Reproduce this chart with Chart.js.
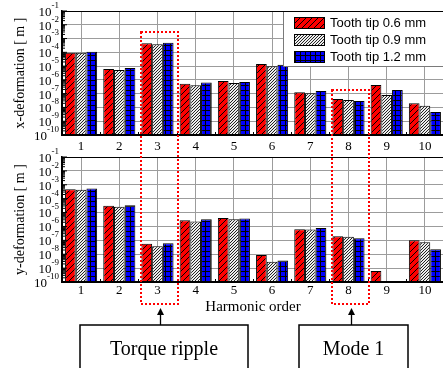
<!DOCTYPE html>
<html>
<head>
<meta charset="utf-8">
<script src="https://cdn.jsdelivr.net/npm/chart.js@4.4.0/dist/chart.umd.min.js"></script>
<style>
  html, body { margin: 0; padding: 0; background: #fff; }
  #wrap { position: relative; width: 443px; height: 368px; overflow: hidden; background: #fff; }
  #wrap canvas { position: absolute; left: 0; }
  #top-canvas { top: 0; }
  #bottom-canvas { top: 146px; }
  #notes-canvas { top: 0; pointer-events: none; }
</style>
</head>
<body>
<div id="wrap">
  <canvas id="top-canvas" width="444" height="152"></canvas>
  <canvas id="bottom-canvas" width="444" height="170"></canvas>
  <canvas id="notes-canvas" width="443" height="368"></canvas>
</div>
<script>
(function () {
  'use strict';

  // ─── DATA ─────────────────────────────────────────────────────
  const HARMONICS = ['1', '2', '3', '4', '5', '6', '7', '8', '9', '10'];
  const SERIES_LABELS = ['Tooth tip 0.6 mm', 'Tooth tip 0.9 mm', 'Tooth tip 1.2 mm'];

  const X_DEF_06 = [9.3e-5, 6.2e-6, 4.5e-4, 5.3e-7, 8.3e-7, 1.4e-5, 1.26e-7, 4.1e-8, 4.3e-7, 2.0e-8];
  const X_DEF_09 = [9.3e-5, 5.2e-6, 3.8e-4, 4.1e-7, 6.0e-7, 9.7e-6, 1.07e-7, 3.5e-8, 8.0e-8, 1.3e-8];
  const X_DEF_12 = [1.1e-4, 7.3e-6, 5.0e-4, 6.6e-7, 7.0e-7, 1.26e-5, 1.58e-7, 2.9e-8, 1.85e-7, 4.7e-9];

  const Y_DEF_06 = [4.7e-4, 3.1e-5, 5.7e-8, 2.8e-6, 4.1e-6, 8.8e-9, 6.2e-7, 2.0e-7, 6.2e-10, 1.0e-7];
  const Y_DEF_09 = [4.4e-4, 2.6e-5, 3.7e-8, 2.3e-6, 3.3e-6, 2.9e-9, 6.0e-7, 1.8e-7, 1.0e-10, 7.2e-8];
  const Y_DEF_12 = [5.5e-4, 3.3e-5, 6.1e-8, 3.3e-6, 3.8e-6, 3.6e-9, 7.8e-7, 1.4e-7, 1.0e-10, 2.3e-8];

  const TICK_EXPONENTS = [-1, -2, -3, -4, -5, -6, -7, -8, -9, -10];

  // callouts: which harmonic they frame, and their text
  const NOTES = [
    { index: 2, text: 'Torque ripple' },
    { index: 7, text: 'Mode 1' },
  ];

  // ─── STYLE ────────────────────────────────────────────────────
  const SERIF = '"Liberation Serif", "Times New Roman", serif';
  const SANS  = '"Liberation Sans", Arial, sans-serif';
  const GRID  = '#9c9c9c';

  function makePattern(size, draw) {
    const c = document.createElement('canvas');
    c.width = c.height = size;
    const g = c.getContext('2d');
    draw(g, size);
    return g.createPattern(c, 'repeat');
  }

  function diagonal(g, s) {
    g.beginPath();
    g.moveTo(-1, s + 1); g.lineTo(s + 1, -1);
    g.moveTo(-1, 1);     g.lineTo(1, -1);
    g.moveTo(s - 1, s + 1); g.lineTo(s + 1, s - 1);
    g.stroke();
  }

  const RED_HATCH = makePattern(6, (g, s) => {
    g.fillStyle = '#ff0000';
    g.fillRect(0, 0, s, s);
    g.strokeStyle = '#000';
    g.lineWidth = 1;
    diagonal(g, s);
  });

  const GRAY_HATCH = makePattern(3, (g, s) => {
    g.fillStyle = '#ececec';
    g.fillRect(0, 0, s, s);
    g.strokeStyle = '#222';
    g.lineWidth = 1;
    diagonal(g, s);
  });

  const BLUE_GRID = makePattern(5, (g, s) => {
    g.fillStyle = '#0000ff';
    g.fillRect(0, 0, s, s);
    g.fillStyle = '#000';
    g.fillRect(0, 0, s, 1);
    g.fillRect(0, 0, 1, s);
  });

  const FILLS = [RED_HATCH, GRAY_HATCH, BLUE_GRID];

  function buildDatasets(series) {
    return series.map((vals, i) => ({
      label: SERIES_LABELS[i],
      data: vals,
      backgroundColor: FILLS[i],
      borderColor: '#000',
      borderWidth: 1,
      categoryPercentage: 0.84,
      barPercentage: 1.0,
    }));
  }

  // ─── PLUGINS ──────────────────────────────────────────────────
  const framePlugin = {
    id: 'frame',
    afterDraw(chart) {
      const { ctx, chartArea: a, scales: { y } } = chart;
      ctx.save();

      // plot box
      ctx.strokeStyle = '#000';
      ctx.lineWidth = 1;
      ctx.strokeRect(a.left + 0.5, a.top + 0.5, a.width - 1, a.height - 1);

      // log ticks pointing inward
      ctx.beginPath();
      TICK_EXPONENTS.forEach(e => {
        const major = y.getPixelForValue(Math.pow(10, e));
        ctx.moveTo(a.left, major); ctx.lineTo(a.left + 5, major);
        if (e === -1) return;
        for (let k = 2; k < 10; k++) {
          const py = y.getPixelForValue(k * Math.pow(10, e));
          ctx.moveTo(a.left, py); ctx.lineTo(a.left + 3, py);
        }
      });
      // category boundary ticks
      const step = a.width / HARMONICS.length;
      for (let i = 0; i <= HARMONICS.length; i++) {
        const px = Math.round(a.left + i * step) + 0.5;
        ctx.moveTo(px, a.bottom); ctx.lineTo(px, a.bottom - 3);
      }
      ctx.stroke();

      // 10^n tick labels
      ctx.fillStyle = '#000';
      ctx.textBaseline = 'middle';
      const right = a.left - 3;
      TICK_EXPONENTS.forEach(e => {
        const py = y.getPixelForValue(Math.pow(10, e));
        const exp = String(e);
        ctx.font = '9px ' + SERIF;
        const ew = ctx.measureText(exp).width;
        ctx.textAlign = 'left';
        ctx.fillText(exp, right - ew, py - 5.5);
        ctx.font = '13px ' + SERIF;
        ctx.textAlign = 'right';
        ctx.fillText('10', right - ew, py + 1.5);
      });
      ctx.restore();
    },
  };

  const boxLegendPlugin = {
    id: 'boxLegend',
    afterDatasetsDraw(chart) {
      const { ctx, chartArea: a } = chart;
      const x0 = a.right - 161, y0 = a.top, h = 55;
      ctx.save();
      ctx.fillStyle = '#fff';
      ctx.fillRect(x0, y0, a.right - x0, h);
      ctx.strokeStyle = '#7a7a7a';
      ctx.lineWidth = 1;
      ctx.strokeRect(x0 + 0.5, y0 + 0.5, a.right - x0 + 2, h);
      chart.data.datasets.forEach((ds, i) => {
        const sy = y0 + 6 + i * 17;
        ctx.fillStyle = ds.backgroundColor;
        ctx.fillRect(x0 + 11, sy, 31, 12);
        ctx.strokeStyle = '#000';
        ctx.strokeRect(x0 + 11.5, sy + 0.5, 30, 11);
        ctx.fillStyle = '#000';
        ctx.font = '13px ' + SANS;
        ctx.textAlign = 'left';
        ctx.textBaseline = 'middle';
        ctx.fillText(ds.label, x0 + 47, sy + 6.5);
      });
      ctx.restore();
    },
  };

  // ─── CHART BUILDER ────────────────────────────────────────────
  function buildChart(canvasId, series, yTitle, opts) {
    const plugins = [framePlugin];
    if (opts.legend) plugins.push(boxLegendPlugin);
    return new Chart(document.getElementById(canvasId).getContext('2d'), {
      type: 'bar',
      data: { labels: HARMONICS, datasets: buildDatasets(series) },
      plugins,
      options: {
        responsive: false,
        animation: false,
        layout: { padding: { top: 11, left: 0, right: 0, bottom: 0 } },
        plugins: { legend: { display: false }, tooltip: { enabled: false } },
        scales: {
          x: {
            grid: { offset: false, color: GRID, lineWidth: 1, drawTicks: false },
            border: { color: '#000', width: 1 },
            ticks: {
              color: '#000',
              font: { family: SERIF, size: 13 },
              padding: opts.tickPad,
              maxRotation: 0,
              autoSkip: false,
            },
            title: {
              display: !!opts.xTitle,
              text: opts.xTitle || '',
              color: '#000',
              font: { family: SERIF, size: 15 },
              padding: 0,
            },
            afterFit: s => { s.height = opts.xHeight; },
          },
          y: {
            type: 'logarithmic',
            min: 1e-10,
            max: 1e-1,
            afterBuildTicks: s => {
              s.ticks = TICK_EXPONENTS.map(e => ({ value: Math.pow(10, e) }));
            },
            afterFit: s => { s.width = 62; },
            ticks: { display: false },
            grid: { color: GRID, lineWidth: 1, drawTicks: false },
            border: { color: '#000', width: 1.5 },
            title: {
              display: true,
              text: yTitle,
              color: '#000',
              font: { family: SERIF, size: 14 },
              padding: { top: 12, bottom: 0 },
            },
          },
        },
      },
    });
  }

  buildChart('top-canvas', [X_DEF_06, X_DEF_09, X_DEF_12], 'x-deformation [ m ]',
    { legend: true, xHeight: 17, tickPad: 4 });
  const bottomChart = buildChart('bottom-canvas', [Y_DEF_06, Y_DEF_09, Y_DEF_12], 'y-deformation [ m ]',
    { legend: false, xHeight: 34, tickPad: 1, xTitle: 'Harmonic order' });

  // ─── CALLOUTS ─────────────────────────────────────────────────
  const BOX_TOPS = [32, 90];
  const CALLOUT_BOXES = [[80, 248], [299, 408]];
  const nctx = document.getElementById('notes-canvas').getContext('2d');
  const xs = bottomChart.scales.x;
  const half = 18.5;

  NOTES.forEach((n, i) => {
    const cx = xs.getPixelForValue(n.index) + 2;
    // dotted frame
    nctx.save();
    nctx.strokeStyle = '#ff0000';
    nctx.lineWidth = 2;
    nctx.setLineDash([2, 2]);
    nctx.strokeRect(cx - half, BOX_TOPS[i], half * 2, 304 - BOX_TOPS[i]);
    nctx.restore();

    // arrow
    const ax = Math.round(cx + 0.5) + 0.5;
    nctx.strokeStyle = '#000';
    nctx.lineWidth = 1.3;
    nctx.beginPath();
    nctx.moveTo(ax, 325); nctx.lineTo(ax, 313);
    nctx.stroke();
    nctx.fillStyle = '#000';
    nctx.beginPath();
    nctx.moveTo(ax, 308); nctx.lineTo(ax - 3.5, 315); nctx.lineTo(ax + 3.5, 315);
    nctx.closePath();
    nctx.fill();

    // text box
    const [l, r] = CALLOUT_BOXES[i];
    nctx.lineWidth = 1.5;
    nctx.strokeRect(l, 325, r - l, 60);
    nctx.font = '20px ' + SERIF;
    nctx.textAlign = 'center';
    nctx.textBaseline = 'alphabetic';
    nctx.fillText(n.text, (l + r) / 2, 355);
  });
})();
</script>
</body>
</html>
